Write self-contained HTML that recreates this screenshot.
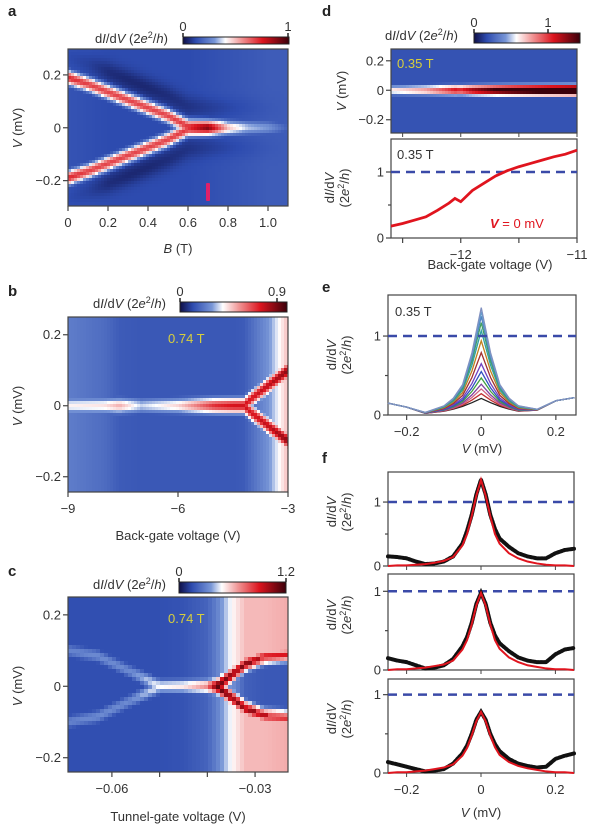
<!DOCTYPE html>
<html><head><meta charset="utf-8">
<style>
html,body{margin:0;padding:0;background:#fff;}
svg{display:block;font-family:"Liberation Sans",sans-serif;}
.t{font-size:13px;fill:#333;}
.pl{font-size:15px;font-weight:bold;fill:#222;}
</style></head>
<body>
<svg id="fig" width="600" height="831" viewBox="0 0 600 831" xmlns="http://www.w3.org/2000/svg">
<defs>
<linearGradient id="cmap" x1="0" x2="1" y1="0" y2="0">
<stop offset="0" stop-color="#0f0f46"/><stop offset="0.12" stop-color="#2d4baf"/><stop offset="0.3" stop-color="#7896d7"/><stop offset="0.4" stop-color="#ffffff"/><stop offset="0.55" stop-color="#f09696"/><stop offset="0.75" stop-color="#dc141e"/><stop offset="1" stop-color="#3c000a"/>
</linearGradient>
</defs>
<g id="root"></g>
</svg>
<script>
// ---------- data ----------
const aB=[0,0.1,0.2,0.3,0.4,0.5,0.6,0.7,0.8,0.9,1.0,1.1];
const aPeak=[0.19,0.165,0.135,0.105,0.075,0.045,0.005,0,0,0,0,0];
const aAmp=[0.68,0.64,0.64,0.64,0.64,0.64,0.66,0.85,0.45,0.3,0.25,0.12];
const aBg=[0.14,0.13,0.12,0.12,0.12,0.12,0.12,0.13,0.14,0.15,0.16,0.16];
const aDark=[0.02,0.03,0.06,0.07,0.07,0.06,0.05,0.04,0.03,0.02,0.01,0];
const bVg=[-9,-8,-7.6,-7,-6,-5,-4.5,-4.2,-4,-3.5,-3];
const bPeak=[0,0,0,0,0,0,0,0,0.02,0.06,0.1];
const bAmp=[0.32,0.36,0.45,0.3,0.4,0.65,0.7,0.7,0.68,0.68,0.68];
const bBg=[0.24,0.2,0.16,0.15,0.15,0.15,0.15,0.16,0.2,0.3,0.5];
const cVt=[-0.0692,-0.063,-0.056,-0.05,-0.045,-0.04,-0.038,-0.035,-0.032,-0.028,-0.0231];
const cPeak=[0.1,0.085,0.04,0,0,0,0,0.03,0.06,0.08,0.085];
const cAmp=[0.2,0.22,0.22,0.35,0.38,0.5,0.85,0.72,0.7,0.6,0.55];
const cBgOut=[0.13,0.13,0.13,0.13,0.14,0.18,0.25,0.4,0.5,0.5,0.52];
const cBgIn=[0.13,0.13,0.13,0.13,0.14,0.18,0.25,0.3,0.17,0.15,0.15];
const dVg=[-12.6,-12.5,-12.4,-12.3,-12.2,-12.1,-12.05,-12.0,-11.9,-11.8,-11.7,-11.6,-11.5,-11.4,-11.3,-11.2,-11.1,-11.0];
const dG=[0.18,0.22,0.27,0.32,0.42,0.53,0.6,0.55,0.72,0.83,0.94,1.02,1.08,1.13,1.18,1.23,1.27,1.33];
const eV=[-0.25,-0.2,-0.15,-0.1,-0.075,-0.05,-0.025,0,0.025,0.05,0.075,0.1,0.15,0.2,0.25];
const eBase=[0.15,0.1,0.02,0.04,0.06,0.08,0.09,0.09,0.09,0.08,0.06,0.04,0.06,0.18,0.22];
const eShape=[0,0,0.01,0.06,0.12,0.24,0.55,1,0.55,0.24,0.12,0.06,0.01,0,0];
const eHeights=[0.12,0.18,0.24,0.3,0.38,0.46,0.56,0.7,0.85,0.98,1.08,1.16,1.22,1.27];
const fV=[-0.25,-0.225,-0.2,-0.175,-0.15,-0.125,-0.1,-0.075,-0.05,-0.0375,-0.025,-0.0125,0,0.0125,0.025,0.0375,0.05,0.075,0.1,0.125,0.15,0.175,0.2,0.225,0.25];
const f1Dots=[0.15,0.14,0.12,0.07,0.03,0.04,0.07,0.15,0.35,0.55,0.8,1.12,1.35,1.12,0.8,0.58,0.43,0.3,0.2,0.15,0.12,0.12,0.2,0.25,0.27];
const f1Fit=[0,0.01,0.01,0.02,0.03,0.05,0.08,0.14,0.32,0.5,0.78,1.1,1.35,1.1,0.78,0.5,0.35,0.2,0.12,0.07,0.04,0.02,0.01,0.01,0];
const f2Dots=[0.15,0.12,0.1,0.06,0.02,0.03,0.06,0.14,0.3,0.42,0.6,0.84,0.98,0.84,0.6,0.44,0.34,0.24,0.16,0.12,0.1,0.1,0.2,0.26,0.28];
const f2Fit=[0,0.01,0.01,0.02,0.03,0.05,0.07,0.12,0.26,0.38,0.58,0.82,0.98,0.82,0.58,0.38,0.27,0.16,0.1,0.06,0.04,0.02,0.01,0.01,0];
const f3Dots=[0.14,0.11,0.08,0.05,0.02,0.03,0.05,0.12,0.25,0.35,0.5,0.68,0.78,0.68,0.5,0.37,0.28,0.18,0.12,0.09,0.07,0.08,0.18,0.22,0.25];
const f3Fit=[0,0.01,0.01,0.02,0.03,0.05,0.07,0.11,0.22,0.32,0.48,0.66,0.78,0.66,0.48,0.33,0.23,0.14,0.09,0.06,0.04,0.02,0.01,0.01,0];
const eColors=["#222","#c03030","#d06080","#8040a0","#40a040","#3050c0","#7040c0","#a03030","#c08020","#30a0a0","#40a060","#5080c0","#60a0d0","#8090c0"];

// ---------- helpers ----------
const NS="http://www.w3.org/2000/svg";
const root=document.getElementById('root');
function mk(tag,attrs,parent){const e=document.createElementNS(NS,tag);for(const k in attrs)e.setAttribute(k,attrs[k]);(parent||root).appendChild(e);return e;}
function txt(x,y,s,anchor,cls,extra){const e=mk('text',Object.assign({x:x,y:y,'text-anchor':anchor||'start',class:cls||'t'},extra||{}));e.innerHTML=s;return e;}
function interp(xs,ys,x){if(x<=xs[0])return ys[0];for(let i=1;i<xs.length;i++){if(x<=xs[i]){const t=(x-xs[i-1])/(xs[i]-xs[i-1]);return ys[i-1]+t*(ys[i]-ys[i-1]);}}return ys[ys.length-1];}
const stops=[[0,[15,15,70]],[0.12,[45,75,175]],[0.3,[120,150,215]],[0.4,[255,255,255]],[0.55,[240,150,150]],[0.75,[220,20,30]],[1,[60,0,10]]];
function cmap(v){v=Math.max(0,Math.min(1,v));for(let i=1;i<stops.length;i++){if(v<=stops[i][0]){const t=(v-stops[i-1][0])/(stops[i][0]-stops[i-1][0]);const a=stops[i-1][1],b=stops[i][1];return 'rgb('+a.map((c,j)=>Math.round(c+t*(b[j]-c))).join(',')+')';}}return 'rgb(60,0,10)';}
function scale(d0,d1,r0,r1){return v=>r0+(v-d0)/(d1-d0)*(r1-r0);}
function frame(x0,y0,x1,y1,name){const r=mk('rect',{x:x0,y:y0,width:x1-x0,height:y1-y0,fill:'none',stroke:'#444','stroke-width':1.2});

}
function heat(g,X0,X1,Y0,Y1,xd0,xd1,vd0,vd1,fn,cw,ch){
 for(let px=X0;px<X1;px+=cw){const xv=xd0+(px+cw/2-X0)/(X1-X0)*(xd1-xd0);
  for(let py=Y0;py<Y1;py+=ch){const vv=vd1-(py+ch/2-Y0)/(Y1-Y0)*(vd1-vd0);
   mk('rect',{x:px,y:py,width:Math.min(cw,X1-px)+0.5,height:Math.min(ch,Y1-py)+0.5,fill:cmap(fn(xv,vv))},g);}}}
function ytick(x,y,label,out){mk('line',{x1:x-(out||4),x2:x,y1:y,y2:y,stroke:'#444','stroke-width':1.2});if(label!==null)txt(x-7,y+4.5,label,'end');}
function xtick(x,y,label){mk('line',{x1:x,x2:x,y1:y,y2:y+5,stroke:'#444','stroke-width':1.2});if(label!==null)txt(x,y+21,label,'middle');}
function cbar(x0,y0,x1,y1,lab0,lab1,lab1x,name){const r=mk('rect',{x:x0,y:y0,width:x1-x0,height:y1-y0,fill:'url(#cmap)',stroke:'#222','stroke-width':1});


mk('line',{x1:x0,x2:x0,y1:y0-4,y2:y0,stroke:'#222','stroke-width':1.5});mk('line',{x1:lab1x,x2:lab1x,y1:y0-4,y2:y0,stroke:'#222','stroke-width':1.5});
txt(x0,y0-6,lab0,'middle');txt(lab1x,y0-6,lab1,'middle');}
const DIDVt='d<tspan font-style="italic">I</tspan>/d<tspan font-style="italic">V</tspan> (2<tspan font-style="italic">e</tspan><tspan font-size="9" dy="-5">2</tspan><tspan dy="5">/</tspan><tspan font-style="italic">h</tspan>)';
function gauss(v,p,w){return Math.exp(-((v-p)/w)*((v-p)/w));}
function twoLine(){return DIDVt.replace(' (','</tspan><tspan x="0" dy="15">(').replace(/^/,'<tspan x="0">')+'</tspan>';}

// ---------- panel a ----------
(function(){const g=mk('g',{});
 const X0=68,X1=288,Y0=49,Y1=206;
 heat(g,X0,X1,Y0,Y1,0,1.1,-0.296,0.298,(b,v)=>{const p=interp(aB,aPeak,b),A=interp(aB,aAmp,b);const w=0.028;
  let val=interp(aB,aBg,b);
  val-=interp(aB,aDark,b)*gauss(Math.abs(v),p+0.075,0.04);
  val=Math.max(val,A*Math.max(gauss(v,p,w),gauss(v,-p,w))+val*0.3);return val;},3,3);
 frame(X0,Y0,X1,Y1,'panel-a-frame');
 const xs=scale(0,1.1,X0,X1),ys=scale(-0.296,0.298,Y1,Y0);
 [[0.2,'0.2'],[0,'0'],[-0.2,'−0.2']].forEach(t=>ytick(X0,ys(t[0]),t[1],5));
 [[0,'0'],[0.2,'0.2'],[0.4,'0.4'],[0.6,'0.6'],[0.8,'0.8'],[1.0,'1.0']].forEach(t=>xtick(xs(t[0]),Y1,t[1]));
 const m=mk('rect',{x:xs(0.7)-2,y:183,width:4,height:18,fill:'#e0206a',rx:1});
 txt(178,253,'<tspan font-style="italic">B</tspan> (T)','middle');
 txt(0,0,'<tspan font-style="italic">V</tspan> (mV)','middle','t',{transform:'translate(22,128) rotate(-90)'});
 cbar(183,37,289,44,'0','1',288,'colorbar-a');txt(168,43,DIDVt,'end');
 txt(8,16,'a','start','pl');})();

// ---------- panel b ----------
(function(){const g=mk('g',{});
 const X0=68,X1=288,Y0=317,Y1=492;
 heat(g,X0,X1,Y0,Y1,-9,-3,-0.243,0.25,(x,v)=>{const p=interp(bVg,bPeak,x),A=interp(bVg,bAmp,x),bg=interp(bVg,bBg,x);const w=0.022;
  return Math.max(bg,A*Math.max(gauss(v,p,w),gauss(v,-p,w))+bg*0.4);},3,3);
 frame(X0,Y0,X1,Y1,'panel-b-frame');
 const xs=scale(-9,-3,X0,X1),ys=scale(-0.243,0.25,Y1,Y0);
 [[0.2,'0.2'],[0,'0'],[-0.2,'−0.2']].forEach(t=>ytick(X0,ys(t[0]),t[1],5));
 [[-9,'−9'],[-6,'−6'],[-3,'−3']].forEach(t=>xtick(xs(t[0]),Y1,t[1]));
 txt(178,540,'Back-gate voltage (V)','middle');
 txt(0,0,'<tspan font-style="italic">V</tspan> (mV)','middle','t',{transform:'translate(22,406) rotate(-90)'});
 cbar(180,302,287,312,'0','0.9',277,'colorbar-b');txt(166,308,DIDVt,'end');
 txt(168,343,'0.74 T','start','t',{style:'fill:#d8cf3c'});
 txt(8,296,'b','start','pl');})();

// ---------- panel c ----------
(function(){const g=mk('g',{});
 const X0=68,X1=288,Y0=597,Y1=772;
 heat(g,X0,X1,Y0,Y1,-0.0692,-0.0231,-0.24,0.25,(x,v)=>{const p=interp(cVt,cPeak,x),A=interp(cVt,cAmp,x);const bg=Math.abs(v)<p?interp(cVt,cBgIn,x):interp(cVt,cBgOut,x);const w=0.02;
  return Math.max(bg,A*Math.max(gauss(v,p,w),gauss(v,-p,w))+bg*0.4);},4,4);
 frame(X0,Y0,X1,Y1,'panel-c-frame');
 const xs=scale(-0.0692,-0.0231,X0,X1),ys=scale(-0.24,0.25,Y1,Y0);
 [[0.2,'0.2'],[0,'0'],[-0.2,'−0.2']].forEach(t=>ytick(X0,ys(t[0]),t[1],5));
 [[-0.06,'−0.06'],[-0.05,null],[-0.04,null],[-0.03,'−0.03']].forEach(t=>xtick(xs(t[0]),Y1,t[1]));
 txt(178,821,'Tunnel-gate voltage (V)','middle');
 txt(0,0,'<tspan font-style="italic">V</tspan> (mV)','middle','t',{transform:'translate(22,686) rotate(-90)'});
 cbar(179,582,286,593,'0','1.2',286,'colorbar-c');txt(166,589,DIDVt,'end');
 txt(168,623,'0.74 T','start','t',{style:'fill:#d8cf3c'});
 txt(8,576,'c','start','pl');})();

// ---------- panel d ----------
(function(){const g=mk('g',{});
 const X0=391,X1=577,Y0=49,Y1=133;
 heat(g,X0,X1,Y0,Y1,-12.6,-11,-0.29,0.28,(x,v)=>{const G=interp(dVg,dG,x);return Math.max(0.14,(G/1.3+0.25)*gauss(v,0,0.035)+0.05);},3,3);
 frame(X0,Y0,X1,Y1,'panel-d-heatmap-frame');
 const ysH=scale(-0.29,0.28,Y1,Y0);
 [[0.2,'0.2'],[0,'0'],[-0.2,'−0.2']].forEach(t=>ytick(X0,ysH(t[0]),t[1],5));
 txt(0,0,'<tspan font-style="italic">V</tspan> (mV)','middle','t',{transform:'translate(346,91) rotate(-90)'});
 txt(397,68,'0.35 T','start','t',{style:'fill:#d8cf3c'});
 cbar(474,33,580,43,'0','1',548,'colorbar-d');txt(458,40,DIDVt,'end');
 const L0=139,L1=238;
 frame(X0,L0,X1,L1,'panel-d-line-frame');
 const xs=scale(-12.6,-11,X0,X1),ys=scale(0,1.5,L1,L0);
 [[1,'1'],[0,'0']].forEach(t=>ytick(X0,ys(t[0]),t[1],5));ytick(X0,ys(0.5),null,3);
 [[-12.5,null],[-12,'−12'],[-11.5,null],[-11,'−11']].forEach(t=>{xtick(xs(t[0]),L1,t[1]);mk('line',{x1:xs(t[0]),x2:xs(t[0]),y1:133,y2:137,stroke:'#444'});});
 const dl=mk('line',{x1:X0,x2:X1,y1:ys(1),y2:ys(1),stroke:'#3a4aa8','stroke-width':2.5,'stroke-dasharray':'9,6'});
 const pl=mk('polyline',{points:dVg.map((v,i)=>xs(v)+','+ys(dG[i])).join(' '),fill:'none',stroke:'#e0141e','stroke-width':2.8});
 
 txt(397,159,'0.35 T');
 txt(490,228,'<tspan font-weight="bold" font-style="italic">V</tspan> = 0 mV','start','t',{style:'fill:#e0141e'});
 txt(490,269,'Back-gate voltage (V)','middle');
 txt(0,0,twoLine(),'middle','t',{transform:'translate(334,188) rotate(-90)'});
 txt(322,16,'d','start','pl');})();

// ---------- panel e ----------
(function(){const X0=388,X1=576,Y0=295,Y1=415;
 frame(X0,Y0,X1,Y1,'panel-e-frame');
 const xs=scale(-0.25,0.254,X0,X1),ys=scale(0,1.52,Y1,Y0);
 [[1,'1'],[0,'0']].forEach(t=>ytick(X0,ys(t[0]),t[1],5));ytick(X0,ys(0.5),null,3);
 [[-0.2,'−0.2'],[0,'0'],[0.2,'0.2']].forEach(t=>xtick(xs(t[0]),Y1,t[1]));
 eHeights.forEach((h,k)=>{const p=mk('polyline',{points:eV.map((v,i)=>xs(v)+','+ys(eBase[i]+h*eShape[i])).join(' '),fill:'none',stroke:eColors[k%eColors.length],'stroke-width':1.3});
  });
 const dl=mk('line',{x1:X0,x2:X1,y1:ys(1),y2:ys(1),stroke:'#3a4aa8','stroke-width':2.5,'stroke-dasharray':'9,6'});
 txt(395,316,'0.35 T');
 txt(482,453,'<tspan font-style="italic">V</tspan> (mV)','middle');
 txt(0,0,twoLine(),'middle','t',{transform:'translate(336,355) rotate(-90)'});
 txt(322,292,'e','start','pl');})();

// ---------- panel f ----------
(function(){const X0=388,X1=574;const xs=scale(-0.25,0.25,X0,X1);
 const subs=[[472,566,1.47,f1Dots,f1Fit],[574,670,1.22,f2Dots,f2Fit],[679,773,1.2,f3Dots,f3Fit]];
 subs.forEach((s,k)=>{const [Y0,Y1,top,dots,fit]=s;const ys=scale(0,top,Y1,Y0);
  frame(X0,Y0,X1,Y1,'panel-f'+(k+1)+'-frame');
  [[1,'1'],[0,'0']].forEach(t=>ytick(X0,ys(t[0]),t[1],5));ytick(X0,ys(0.5),null,3);
  [-0.2,0,0.2].forEach(v=>mk('line',{x1:xs(v),x2:xs(v),y1:Y1,y2:Y1+4,stroke:'#444'}));
  const dl=mk('line',{x1:X0,x2:X1,y1:ys(1),y2:ys(1),stroke:'#3a4aa8','stroke-width':2.5,'stroke-dasharray':'9,6'});
  const d=mk('polyline',{points:fV.map((v,i)=>xs(v)+','+ys(dots[i])).join(' '),fill:'none',stroke:'#111','stroke-width':4,'stroke-dasharray':'2,1.5','stroke-linecap':'round'});
  
  const f=mk('polyline',{points:fV.map((v,i)=>xs(v)+','+ys(fit[i])).join(' '),fill:'none',stroke:'#e0141e','stroke-width':2});
  
  const cy=(Y0+Y1)/2;
  txt(0,0,twoLine(),'middle','t',{transform:'translate(336,'+(cy-7)+') rotate(-90)'});});
 [[-0.2,'−0.2'],[0,'0'],[0.2,'0.2']].forEach(t=>txt(xs(t[0]),794,t[1],'middle'));
 txt(481,817,'<tspan font-style="italic">V</tspan> (mV)','middle');
 txt(322,463,'f','start','pl');})();
</script>
</body></html>
